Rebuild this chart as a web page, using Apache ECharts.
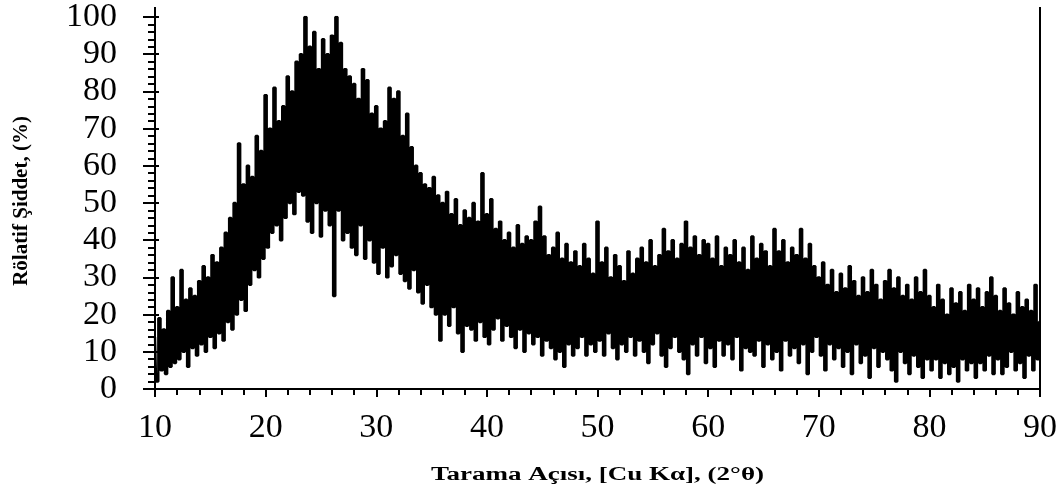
<!DOCTYPE html>
<html>
<head>
<meta charset="utf-8">
<script src="https://cdn.jsdelivr.net/npm/echarts@6/dist/echarts.min.js"></script>
<style>
  html, body { margin: 0; padding: 0; background: #fff; }
  #chart { width: 1064px; height: 499px; }
</style>
</head>
<body>
<div id="chart"></div>
<script>
// Scan range and step (degrees 2θ)
const scanStart = 10;
const scanStep = 0.2;

// Relative intensity (%), one row per 2° of scan
const intensity = [
  14, 2, 19, 5, 16, 4, 21, 6, 30, 7,
  22, 8, 32, 10, 24, 6, 27, 11, 25, 9,
  29, 12, 33, 10, 30, 14, 36, 11, 34, 15,
  38, 13, 42, 18, 46, 16, 50, 20, 66, 24,
  55, 21, 60, 28, 57, 32, 68, 30, 64, 35,
  79, 38, 70, 42, 81, 44, 72, 40, 76, 46,
  84, 50, 80, 47, 88, 53, 90, 52, 100, 45,
  92, 42, 96, 50, 86, 41, 94, 48, 90, 44,
  95, 25, 100, 48, 93, 40, 86, 42, 84, 38,
  82, 36, 78, 44, 86, 35, 83, 40, 74, 34,
  76, 31, 70, 38, 72, 30, 81, 33, 78, 36,
  80, 31, 68, 29, 74, 27, 65, 32, 60, 26,
  58, 23, 55, 28, 54, 22, 57, 20, 52, 13,
  50, 20, 53, 17, 47, 22, 51, 15, 44, 10,
  48, 17, 46, 16, 50, 13, 45, 18, 58, 14,
  47, 12, 51, 16, 43, 19, 45, 13, 40, 17,
  42, 14, 38, 11, 44, 16, 39, 10, 41, 15,
  40, 12, 45, 14, 49, 9, 41, 13, 36, 11,
  38, 8, 42, 10, 35, 6, 39, 12, 34, 9,
  37, 11, 33, 14, 39, 9, 35, 12, 31, 10,
  45, 13, 34, 9, 38, 15, 30, 11, 36, 8,
  33, 12, 29, 10, 37, 14, 31, 9, 35, 13,
  38, 10, 34, 7, 40, 12, 33, 15, 36, 9,
  43, 6, 37, 11, 40, 14, 35, 10, 39, 8,
  45, 4, 38, 12, 41, 9, 36, 14, 40, 7,
  39, 11, 35, 6, 41, 13, 33, 9, 38, 12,
  36, 8, 40, 14, 34, 5, 38, 11, 32, 10,
  41, 9, 35, 13, 39, 6, 37, 12, 33, 8,
  43, 10, 37, 5, 40, 13, 34, 9, 38, 11,
  36, 7, 43, 12, 35, 4, 39, 10, 33, 14,
  30, 9, 34, 5, 28, 12, 32, 8, 26, 11,
  31, 6, 27, 10, 33, 4, 29, 12, 25, 7,
  30, 9, 26, 3, 32, 11, 28, 6, 24, 10,
  29, 8, 32, 5, 27, 2, 30, 10, 25, 7,
  28, 4, 24, 9, 30, 6, 26, 3, 32, 8,
  25, 5, 22, 8, 28, 3, 24, 7, 20, 4,
  27, 6, 23, 2, 26, 8, 21, 5, 28, 7,
  24, 3, 27, 7, 22, 5, 26, 9, 30, 4,
  25, 8, 21, 4, 27, 6, 23, 10, 20, 5,
  26, 7, 22, 3, 24, 9, 21, 5, 28, 8,
  18
];

// Axis ranges and titles
const xRange = [10, 90];
const yRange = [0, 100];
const xTitle = 'Tarama Açısı, [Cu Kα], (2°θ)';
const yTitle = 'Rölatif Şiddet, (%)';

const points = intensity.map((v, i) => [+(scanStart + i * scanStep).toFixed(1), v]);

const serif = "'Liberation Serif', 'Times New Roman', serif";
const black = '#000';

const chart = echarts.init(document.getElementById('chart'), null, { renderer: 'canvas' });

chart.setOption({
  backgroundColor: '#fff',
  animation: false,
  grid: { left: 155, right: 24, top: 15, bottom: 110, containLabel: false },
  xAxis: {
    type: 'value',
    min: xRange[0], max: xRange[1], interval: 10,
    axisLine: { show: true, lineStyle: { color: black, width: 2 } },
    axisTick: { show: true, length: 8, lineStyle: { color: black, width: 2 } },
    minorTick: { show: true, splitNumber: 5, length: 6, lineStyle: { color: black, width: 2 } },
    axisLabel: { color: black, fontFamily: serif, fontSize: 34, margin: 22 },
    splitLine: { show: false }
  },
  yAxis: [{
    type: 'value',
    min: yRange[0], max: yRange[1], interval: 10,
    axisLine: { show: true, lineStyle: { color: black, width: 2 } },
    axisTick: { show: true, length: 12, lineStyle: { color: black, width: 2 } },
    minorTick: { show: true, splitNumber: 5, length: 7, lineStyle: { color: black, width: 2 } },
    axisLabel: { color: black, fontFamily: serif, fontSize: 34, margin: 38 },
    splitLine: { show: false }
  }, {
    // short inward stubs so the major ticks cross the axis line
    type: 'value',
    min: yRange[0], max: yRange[1], interval: 10,
    position: 'left',
    axisLine: { show: false },
    axisTick: { show: true, inside: true, length: 4, lineStyle: { color: black, width: 2 } },
    axisLabel: { show: false },
    splitLine: { show: false }
  }],
  series: [{
    type: 'line',
    data: points,
    step: 'middle',
    symbol: 'none',
    lineStyle: { color: black, width: 2.4 },
    z: 1
  }]
});

// Frame: right-hand border and the short axis extensions above 100
const topLeft = chart.convertToPixel({ gridIndex: 0 }, [xRange[0], yRange[1]]);
const botRight = chart.convertToPixel({ gridIndex: 0 }, [xRange[1], yRange[0]]);
const ext = 10;

chart.setOption({
  graphic: [
    { type: 'line', shape: { x1: botRight[0], y1: topLeft[1] - ext, x2: botRight[0], y2: botRight[1] + 1 },
      style: { stroke: black, lineWidth: 2 } },
    { type: 'line', shape: { x1: topLeft[0], y1: topLeft[1] - ext, x2: topLeft[0], y2: topLeft[1] },
      style: { stroke: black, lineWidth: 2 } },
    { type: 'text', x: (topLeft[0] + botRight[0]) / 2, y: 475, scaleX: 1.5,
      style: { text: xTitle, font: "bold 18px 'Liberation Serif', 'Times New Roman', serif",
               fill: black, align: 'center', verticalAlign: 'middle' } },
    { type: 'text', x: 22, y: 201, rotation: Math.PI / 2,
      style: { text: yTitle, font: "bold 21px 'Liberation Serif', 'Times New Roman', serif",
               fill: black, align: 'center', verticalAlign: 'middle' } }
  ]
});
</script>
</body>
</html>
